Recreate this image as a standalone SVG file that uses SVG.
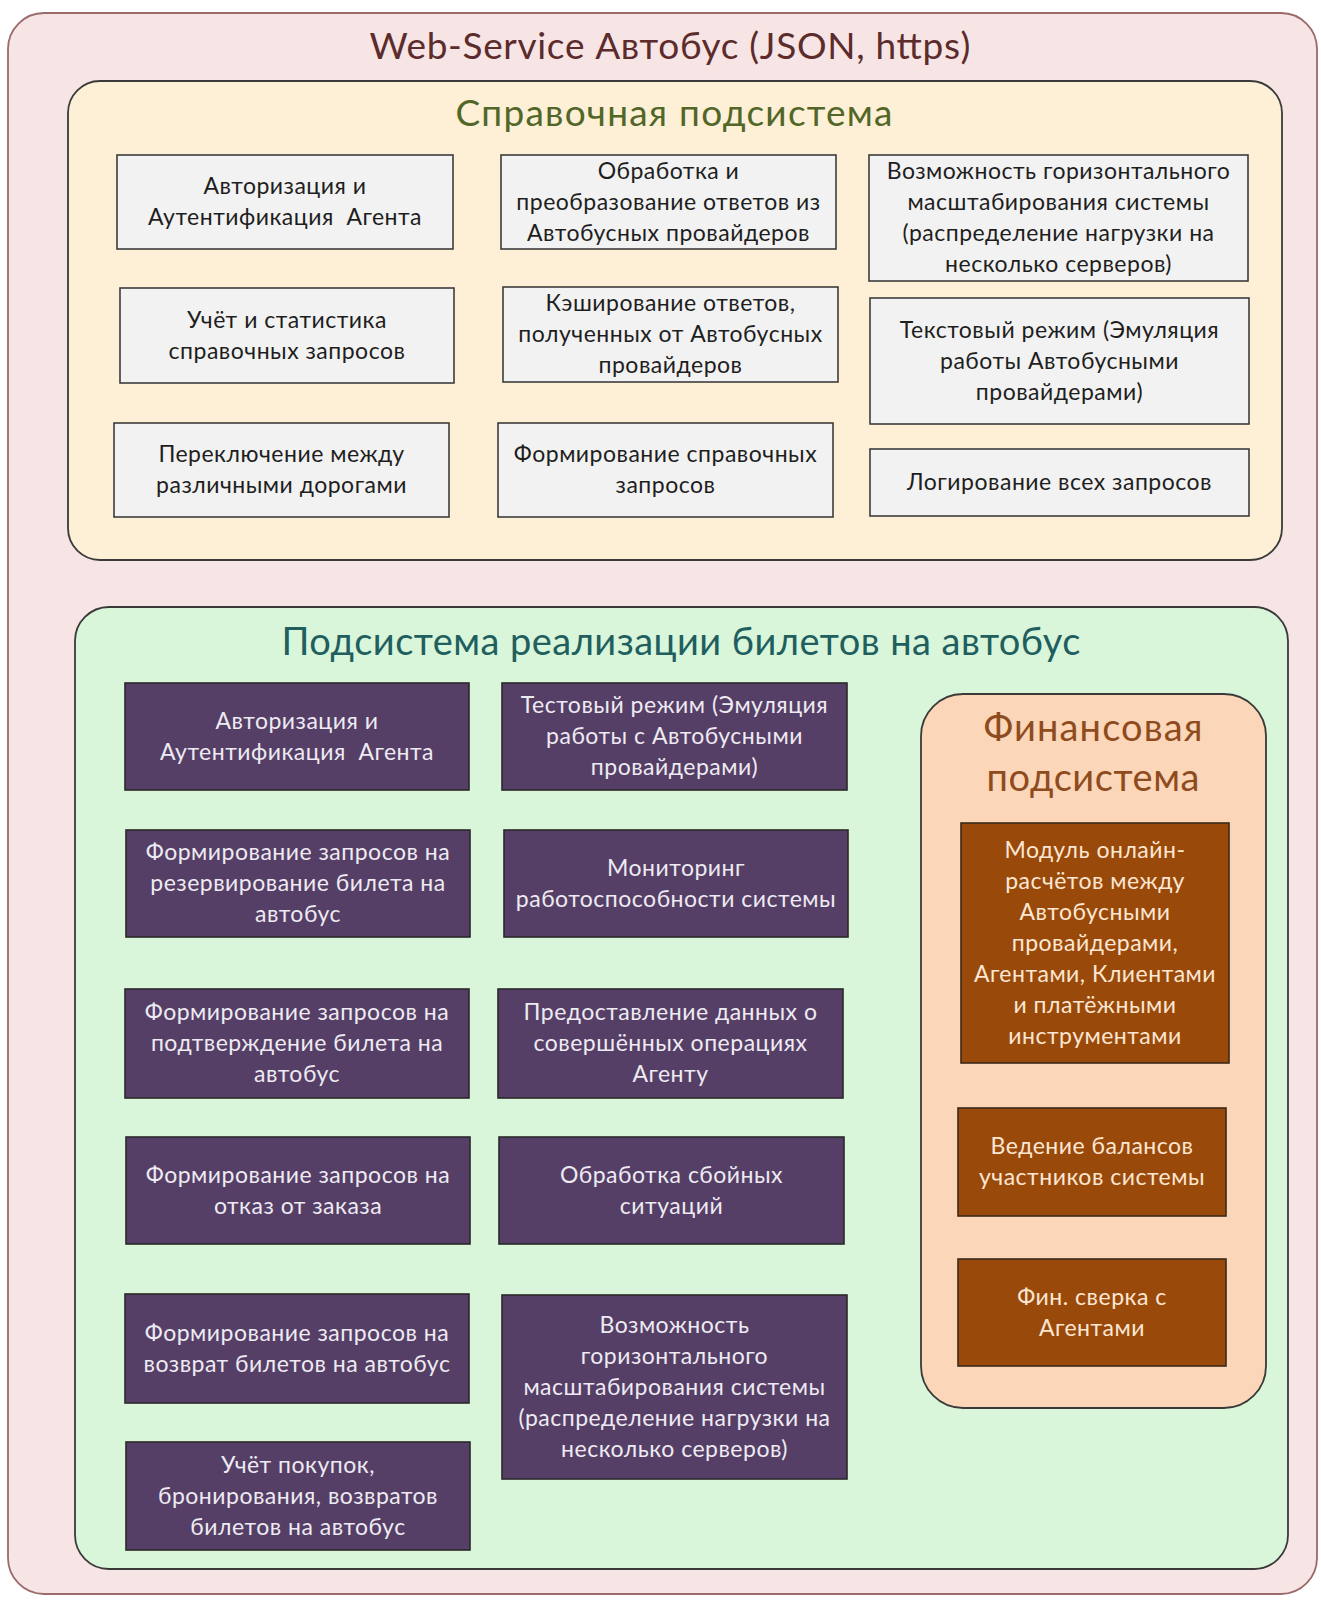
<svg xmlns="http://www.w3.org/2000/svg" width="1321" height="1602" viewBox="0 0 1321 1602">
<style>
text{font-family:Lato,"Open Sans","Noto Sans",sans-serif;text-anchor:middle}
.gb{fill:#F2F2F2;stroke:#3c3c3c;stroke-width:1.6}
.pb{fill:#553F66;stroke:#2a2a2a;stroke-width:1.6}
.fb{fill:#994A0B;stroke:#3a2a1a;stroke-width:1.6}
.gt,.pt,.ft{font-size:23px;letter-spacing:0.5px}
.gt{fill:#1e1e1e}
.pt{fill:#EEEAF2}
.ft{fill:#FDE6D2}
</style>
<rect id="outer" x="8" y="13" width="1309" height="1581" rx="36" fill="#F7E4E4" stroke="#9a6a6a" stroke-width="1.8"/>
<text x="670" y="59" font-size="37" fill="#5C2B2B" textLength="601" lengthAdjust="spacing">Web-Service Автобус (JSON, https)</text>

<g id="ref-subsystem">
<rect x="68" y="81" width="1214" height="479" rx="32" fill="#FDF0D6" stroke="#3a3a3a" stroke-width="1.8"/>
<text x="674" y="126" font-size="37" fill="#526628" textLength="437" lengthAdjust="spacing">Справочная подсистема</text>
</g>
<g id="s1"><rect class="gb" x="117" y="155" width="336" height="94"/><text class="gt"><tspan x="285" y="194">Авторизация и</tspan><tspan x="285" y="225">Аутентификация&#160; Агента</tspan></text></g>
<g id="s2"><rect class="gb" x="501" y="155" width="335" height="94"/><text class="gt"><tspan x="668.5" y="178.5">Обработка и</tspan><tspan x="668.5" y="209.5">преобразование ответов из</tspan><tspan x="668.5" y="240.5">Автобусных провайдеров</tspan></text></g>
<g id="s3"><rect class="gb" x="869" y="155" width="379" height="126"/><text class="gt"><tspan x="1058.5" y="179">Возможность горизонтального</tspan><tspan x="1058.5" y="210">масштабирования системы</tspan><tspan x="1058.5" y="241">(распределение нагрузки на</tspan><tspan x="1058.5" y="272">несколько серверов)</tspan></text></g>
<g id="s4"><rect class="gb" x="120" y="288" width="334" height="95"/><text class="gt"><tspan x="287" y="327.5">Учёт и статистика</tspan><tspan x="287" y="358.5">справочных запросов</tspan></text></g>
<g id="s5"><rect class="gb" x="503" y="287" width="335" height="95"/><text class="gt"><tspan x="670.5" y="311">Кэширование ответов,</tspan><tspan x="670.5" y="342">полученных от Автобусных</tspan><tspan x="670.5" y="373">провайдеров</tspan></text></g>
<g id="s6"><rect class="gb" x="870" y="298" width="379" height="126"/><text class="gt"><tspan x="1059.5" y="337.5">Текстовый режим (Эмуляция</tspan><tspan x="1059.5" y="368.5">работы Автобусными</tspan><tspan x="1059.5" y="399.5">провайдерами)</tspan></text></g>
<g id="s7"><rect class="gb" x="114" y="423" width="335" height="94"/><text class="gt"><tspan x="281.5" y="462">Переключение между</tspan><tspan x="281.5" y="493">различными дорогами</tspan></text></g>
<g id="s8"><rect class="gb" x="498" y="423" width="335" height="94"/><text class="gt"><tspan x="665.5" y="462">Формирование справочных</tspan><tspan x="665.5" y="493">запросов</tspan></text></g>
<g id="s9"><rect class="gb" x="870" y="449" width="379" height="67"/><text class="gt" x="1059.5" y="490">Логирование всех запросов</text></g>

<g id="ticket-subsystem">
<rect x="75" y="607" width="1213" height="962" rx="34" fill="#D9F5DA" stroke="#3a3a3a" stroke-width="1.8"/>
<text x="681" y="655" font-size="38" fill="#215E5E" textLength="799" lengthAdjust="spacing">Подсистема реализации билетов на автобус</text>
</g>
<g id="t1"><rect class="pb" x="125" y="683" width="344" height="107"/><text class="pt"><tspan x="297" y="728.5">Авторизация и</tspan><tspan x="297" y="759.5">Аутентификация&#160; Агента</tspan></text></g>
<g id="t2"><rect class="pb" x="126" y="830" width="344" height="107"/><text class="pt"><tspan x="298" y="860">Формирование запросов на</tspan><tspan x="298" y="891">резервирование билета на</tspan><tspan x="298" y="922">автобус</tspan></text></g>
<g id="t3"><rect class="pb" x="125" y="989" width="344" height="109"/><text class="pt"><tspan x="297" y="1020">Формирование запросов на</tspan><tspan x="297" y="1051">подтверждение билета на</tspan><tspan x="297" y="1082">автобус</tspan></text></g>
<g id="t4"><rect class="pb" x="126" y="1137" width="344" height="107"/><text class="pt"><tspan x="298" y="1182.5">Формирование запросов на</tspan><tspan x="298" y="1213.5">отказ от заказа</tspan></text></g>
<g id="t5"><rect class="pb" x="125" y="1294" width="344" height="109"/><text class="pt"><tspan x="297" y="1340.5">Формирование запросов на</tspan><tspan x="297" y="1371.5">возврат билетов на автобус</tspan></text></g>
<g id="t6"><rect class="pb" x="126" y="1442" width="344" height="108"/><text class="pt"><tspan x="298" y="1472.5">Учёт покупок,</tspan><tspan x="298" y="1503.5">бронирования, возвратов</tspan><tspan x="298" y="1534.5">билетов на автобус</tspan></text></g>
<g id="t7"><rect class="pb" x="502" y="683" width="345" height="107"/><text class="pt"><tspan x="674.5" y="713">Тестовый режим (Эмуляция</tspan><tspan x="674.5" y="744">работы с Автобусными</tspan><tspan x="674.5" y="775">провайдерами)</tspan></text></g>
<g id="t8"><rect class="pb" x="504" y="830" width="344" height="107"/><text class="pt"><tspan x="676" y="875.5">Мониторинг</tspan><tspan x="676" y="906.5">работоспособности системы</tspan></text></g>
<g id="t9"><rect class="pb" x="498" y="989" width="345" height="109"/><text class="pt"><tspan x="670.5" y="1020">Предоставление данных о</tspan><tspan x="670.5" y="1051">совершённых операциях</tspan><tspan x="670.5" y="1082">Агенту</tspan></text></g>
<g id="t10"><rect class="pb" x="499" y="1137" width="345" height="107"/><text class="pt"><tspan x="671.5" y="1182.5">Обработка сбойных</tspan><tspan x="671.5" y="1213.5">ситуаций</tspan></text></g>
<g id="t11"><rect class="pb" x="502" y="1295" width="345" height="184"/><text class="pt"><tspan x="674.5" y="1332.5">Возможность</tspan><tspan x="674.5" y="1363.5">горизонтального</tspan><tspan x="674.5" y="1394.5">масштабирования системы</tspan><tspan x="674.5" y="1425.5">(распределение нагрузки на</tspan><tspan x="674.5" y="1456.5">несколько серверов)</tspan></text></g>

<g id="fin-subsystem">
<rect x="921" y="694" width="345" height="714" rx="42" fill="#FBD6B8" stroke="#3a3a3a" stroke-width="1.8"/>
<text font-size="38" fill="#8E4B1E"><tspan x="1093" y="741" textLength="219" lengthAdjust="spacing">Финансовая</tspan><tspan x="1093" y="791" textLength="213" lengthAdjust="spacing">подсистема</tspan></text>
</g>
<g id="f1"><rect class="fb" x="961" y="823" width="268" height="240"/><text class="ft"><tspan x="1095" y="857.5">Модуль онлайн-</tspan><tspan x="1095" y="888.5">расчётов между</tspan><tspan x="1095" y="919.5">Автобусными</tspan><tspan x="1095" y="950.5">провайдерами,</tspan><tspan x="1095" y="981.5">Агентами, Клиентами</tspan><tspan x="1095" y="1012.5">и платёжными</tspan><tspan x="1095" y="1043.5">инструментами</tspan></text></g>
<g id="f2"><rect class="fb" x="958" y="1108" width="268" height="108"/><text class="ft"><tspan x="1092" y="1154">Ведение балансов</tspan><tspan x="1092" y="1185">участников системы</tspan></text></g>
<g id="f3"><rect class="fb" x="958" y="1259" width="268" height="107"/><text class="ft"><tspan x="1092" y="1304.5">Фин. сверка с</tspan><tspan x="1092" y="1335.5">Агентами</tspan></text></g>
<g id="connectors"/>
</svg>
